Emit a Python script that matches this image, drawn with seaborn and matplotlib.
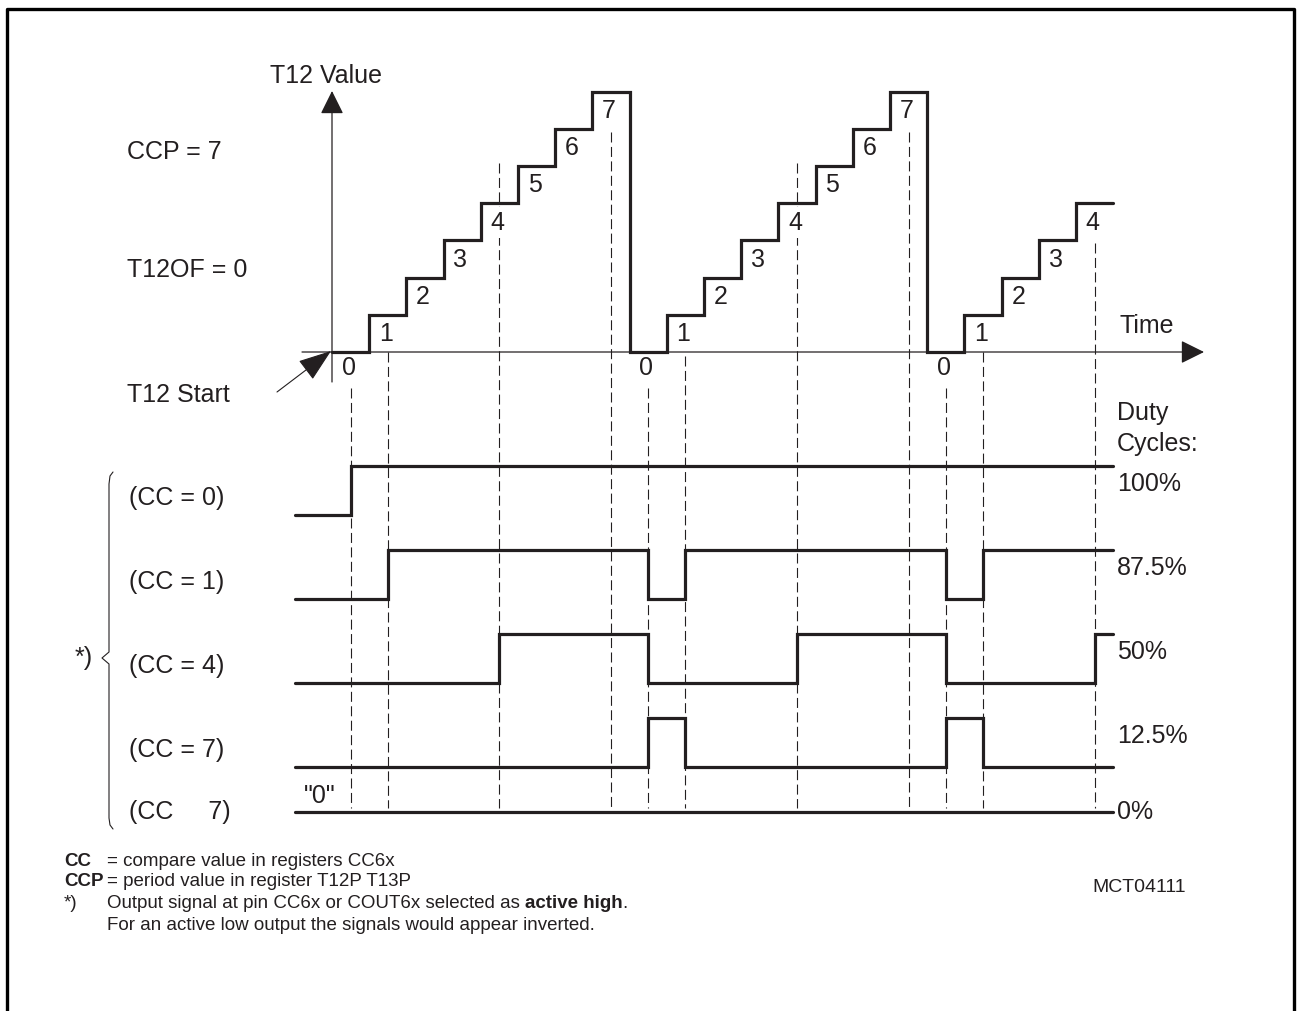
import seaborn as sns
import matplotlib.pyplot as plt
import matplotlib.lines as mlines
import pandas as pd

# T12 counter value, one entry per clock tick (last point only closes the step)
t12_time = list(range(0, 22))
t12_value = [0, 1, 2, 3, 4, 5, 6, 7,
             0, 1, 2, 3, 4, 5, 6, 7,
             0, 1, 2, 3, 4, 4]

# output signals: times of the edges (ticks) and level after each edge
cc_labels = ['(CC = 0)', '(CC = 1)', '(CC = 4)', '(CC = 7)', '(CC     7)']
duty_labels = ['100%', '87.5%', '50%', '12.5%', '0%']
sig_time = [
    [-1, 0.5, 21],
    [-1, 1.5, 8.5, 9.5, 16.5, 17.5, 21],
    [-1, 4.5, 8.5, 12.5, 16.5, 20.5, 21],
    [-1, 8.5, 9.5, 16.5, 17.5, 21],
    [-1, 21],
]
sig_level = [
    [0, 1, 1],
    [0, 1, 0, 1, 0, 1, 1],
    [0, 1, 0, 1, 0, 1, 1],
    [0, 1, 0, 1, 0, 0],
    [0, 0],
]

# dashed guide lines: time and T12 value where they start
guide_time = [0.5, 1.5, 4.5, 7.5, 8.5, 9.5, 12.5, 15.5, 16.5, 17.5, 20.5]
guide_top = [-0.97, 0, 5.08, 5.91, -0.97, -0.1, 5.08, 5.91, -0.97, 0, 2.93]

INK = '#231f20'
W, H = 1297, 1011
U = 37.2            # pixels per tick / per count
X0, Y0 = 332, 352   # origin of the T12 diagram in pixels


def px(x, y):
    # pixel position -> data coords
    return ((x - X0) / U, (Y0 - y) / U)


sns.set_style('white')
plt.rcParams['font.family'] = ['Liberation Sans', 'DejaVu Sans']
plt.rcParams['text.color'] = INK

fig = plt.figure(figsize=(W / 100, H / 100), dpi=100)
ax = fig.add_axes([0, 0, 1, 1])
ax.set_xlim(px(0, 0)[0], px(W, 0)[0])
ax.set_ylim(px(0, H)[1], px(0, 0)[1])
ax.axis('off')

# frame round the figure (open at the bottom)
fig.add_artist(mlines.Line2D([7 / W, 7 / W, 1294 / W, 1294 / W], [0, 1 - 9 / H, 1 - 9 / H, 0],
                             transform=fig.transFigure, color='black', lw=2.4))

# axes with arrows
arr = dict(arrowstyle='-|>,head_length=1.45,head_width=0.72', color=INK, lw=0.9,
           shrinkA=0, shrinkB=0, mutation_scale=10)
ax.annotate('', xy=px(332, 91), xytext=px(332, 382), arrowprops=arr, zorder=5)
ax.annotate('', xy=px(1204, 352), xytext=px(302, 352), arrowprops=arr, zorder=5)
ax.annotate('', xy=px(331, 351), xytext=px(277, 392),
            arrowprops=dict(arrowstyle='-|>,head_length=2.1,head_width=0.75', color=INK,
                            lw=0.8, shrinkA=0, shrinkB=0, mutation_scale=10), zorder=5)

# dashed guides
bottom = px(0, 808)[1]
for t, top in zip(guide_time, guide_top):
    ax.plot([t, t], [top, bottom], color=INK, lw=0.8, dashes=(9, 4), zorder=1)

# T12 staircase
df = pd.DataFrame({'time': t12_time, 'value': t12_value})
sns.lineplot(data=df, x='time', y='value', drawstyle='steps-post', color=INK, lw=2.3,
             estimator=None, sort=False, ax=ax, legend=False, zorder=4,
             solid_joinstyle='miter')
for t, v in zip(t12_time[:-1], t12_value[:-1]):
    y = v - 0.52 if v > 0 else -0.43
    ax.text(t + 0.45, y, str(v), fontsize=18, ha='center', va='center', zorder=2,
            bbox=dict(boxstyle='square,pad=0.15', fc='white', ec='none'))

# output signals
row_low = [515, 599, 683, 767, 812]
amp = 49 / U
for i in range(len(sig_time)):
    base = px(0, row_low[i])[1]
    sdf = pd.DataFrame({'time': sig_time[i],
                        'level': [base + lv * amp for lv in sig_level[i]]})
    sns.lineplot(data=sdf, x='time', y='level', drawstyle='steps-post', color=INK, lw=2.3,
                 estimator=None, sort=False, ax=ax, legend=False, zorder=4,
                 solid_joinstyle='miter')
    ax.text(*px(129, row_low[i] - (17 if i < 4 else 0)), cc_labels[i], fontsize=18,
            va='center', ha='left')
    ax.text(*px(1117, row_low[i] - (31 if i < 4 else 0)), duty_labels[i], fontsize=18,
            va='center', ha='left')

# labels
fs = 18
ax.text(*px(270, 76), 'T12 Value', fontsize=fs, va='center')
ax.text(*px(127, 152), 'CCP = 7', fontsize=fs, va='center')
ax.text(*px(127, 270), 'T12OF = 0', fontsize=fs, va='center')
ax.text(*px(127, 395), 'T12 Start', fontsize=fs, va='center')
ax.text(*px(1120, 326), 'Time', fontsize=fs, va='center')
ax.text(*px(1117, 413), 'Duty', fontsize=fs, va='center')
ax.text(*px(1117, 444), 'Cycles:', fontsize=fs, va='center')
ax.text(*px(304, 796), '"0"', fontsize=fs, va='center')
ax.text(*px(75, 658), '*)', fontsize=fs, va='center')
ax.text(*px(1092, 887), 'MCT04111', fontsize=14, va='center')

# brace
bx = [113, 110, 109, 109, 102, 109, 109, 110, 113]
by = [472, 476, 484, 652, 658, 664, 818, 825, 829]
ax.plot(*zip(*[px(a, b) for a, b in zip(bx, by)]), color=INK, lw=0.8)

# footnotes
nfs = 13.5
eq_x = 107
ax.text(*px(64, 862), 'CC', fontsize=nfs, fontweight='bold', va='center')
ax.text(*px(eq_x, 862), '= compare value in registers CC6x', fontsize=nfs, va='center')
ax.text(*px(64, 882), 'CCP', fontsize=nfs, fontweight='bold', va='center')
ax.text(*px(eq_x, 882), '= period value in register T12P T13P', fontsize=nfs, va='center')
ax.text(*px(64, 903), '*)', fontsize=nfs, va='center')
t1 = ax.text(*px(eq_x, 912), 'Output signal at pin CC6x or COUT6x selected as ', fontsize=nfs,
             va='bottom')
t2 = ax.annotate('active high', xy=(1, 0), xycoords=t1, fontsize=nfs, fontweight='bold',
                 va='bottom')
ax.annotate('.', xy=(1, 0), xycoords=t2, fontsize=nfs, va='bottom')
ax.text(*px(eq_x, 926), 'For an active low output the signals would appear inverted.',
        fontsize=nfs, va='center')

fig.savefig('out.png', dpi=100)
